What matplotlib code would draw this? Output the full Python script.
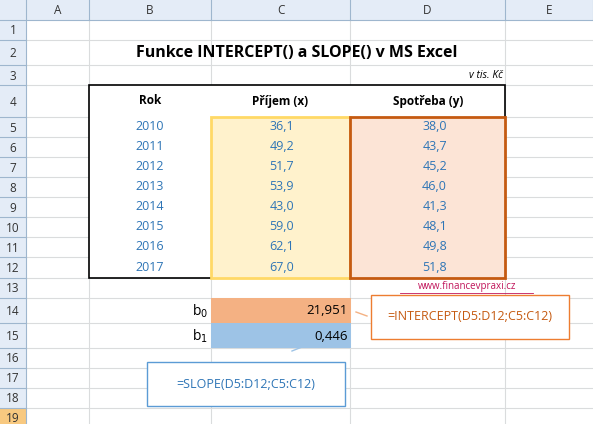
import matplotlib
matplotlib.use("Agg")
import matplotlib.pyplot as plt
from matplotlib.patches import Rectangle

years = ["2010","2011","2012","2013","2014","2015","2016","2017"]
income = ["36,1","49,2","51,7","53,9","43,0","59,0","62,1","67,0"]
spend = ["38,0","43,7","45,2","46,0","41,3","48,1","49,8","51,8"]
b0, b1 = "21,951", "0,446"
col_names = ["A","B","C","D","E"]

W, H = 593, 424
plt.rcParams['font.family'] = ['Open Sans', 'DejaVu Sans']
fig = plt.figure(figsize=(W/100, H/100), dpi=100)
ax = fig.add_axes([0,0,1,1])
ax.set_xlim(0, W); ax.set_ylim(H, 0); ax.axis("off")

cols = [26, 89, 211, 350, 505, 593]
rows = [20,40,65,85,117,137,157,177,197,217,237,257,278,298,323,348,368,388,408,428]
grid = "#dadcdd"
for x in cols[1:-1]:
    ax.plot([x,x],[20,H], color=grid, lw=0.8)
for y in rows[1:]:
    ax.plot([26,W],[y,y], color=grid, lw=0.8)
ax.add_patch(Rectangle((0,0),W,20,fc="#e4ecf7",ec="none"))
ax.add_patch(Rectangle((0,0),26,H,fc="#e4ecf7",ec="none"))
hl = "#9eb6ce"
for i,c in enumerate(col_names):
    ax.text((cols[i]+cols[i+1])/2, 10.5, c, ha="center", va="center", fontsize=8.5, color="#333333")
    ax.plot([cols[i+1]]*2,[0,20], color=hl, lw=0.8)
for i in range(19):
    y0, y1 = rows[i], rows[i+1]
    if i == 18:
        ax.add_patch(Rectangle((0,y0),26,H-y0,fc="#f8c980",ec="none"))
    ax.text(13, (y0+y1)/2+1, str(i+1), ha="center", va="center", fontsize=8.5, color="#333333")
    ax.plot([0,26],[y1,y1], color=hl, lw=0.8)
ax.plot([26,26],[0,H], color=hl, lw=0.8)
ax.plot([0,W],[20,20], color=hl, lw=0.8)

ax.add_patch(Rectangle((89,85),416,193,fc="white",ec="black",lw=1.2,zorder=2))
ax.add_patch(Rectangle((211,117),139,161,fc="#fff2cc",ec="#ffd966",lw=2,zorder=3))
ax.add_patch(Rectangle((350,117),155,161,fc="#fce4d6",ec="#c55a11",lw=2,zorder=3))

ax.text(297, 53, "Funkce INTERCEPT() a SLOPE() v MS Excel", ha="center", va="center",
        fontsize=11.5, fontweight="bold")
ax.text(503, 76, "v tis. Kč", ha="right", va="center", fontsize=7.5, style="italic")
for x, t in [(150,"Rok"),(280,"Příjem (x)"),(428,"Spotřeba (y)")]:
    ax.text(x, 101, t, ha="center", va="center", fontsize=8.5, fontweight="bold", zorder=4)
blue = "#2e75b6"
for i in range(8):
    yc = (rows[4+i]+rows[5+i])/2
    ax.text(150, yc, years[i], ha="center", va="center", fontsize=9, color=blue, zorder=4)
    ax.text(294, yc, income[i], ha="right", va="center", fontsize=9, color=blue, zorder=4)
    ax.text(447, yc, spend[i], ha="right", va="center", fontsize=9, color=blue, zorder=4)
ax.text(467, 287, "www.financevpraxi.cz", ha="center", va="center", fontsize=7,
        color="#c0145a")
ax.plot([400,533],[293,293], color="#c0145a", lw=0.6)

ax.add_patch(Rectangle((211,298),140,25,fc="#f4b183",ec="none",zorder=3))
ax.add_patch(Rectangle((211,323),140,25,fc="#9dc3e6",ec="none",zorder=3))
ax.text(348, 311, b0, ha="right", va="center", fontsize=9.5, zorder=4)
ax.text(348, 336, b1, ha="right", va="center", fontsize=9.5, zorder=4)
ax.text(208, 311, "b$_0$", ha="right", va="center", fontsize=10, zorder=4)
ax.text(208, 336, "b$_1$", ha="right", va="center", fontsize=10, zorder=4)

ax.add_patch(Rectangle((371,295),198,44,fc="white",ec="#ed7d31",lw=1,zorder=3))
ax.text(470, 317, "=INTERCEPT(D5:D12;C5:C12)", ha="center", va="center",
        fontsize=9, color="#c55a11", zorder=4)
ax.plot([356,367],[312,316], color="#f4b183", lw=1, zorder=4)
ax.add_patch(Rectangle((147,362),198,44,fc="white",ec="#5b9bd5",lw=1,zorder=3))
ax.text(246, 384, "=SLOPE(D5:D12;C5:C12)", ha="center", va="center",
        fontsize=9, color="#2e75b6", zorder=4)
ax.plot([292,312],[351,343], color="#9dc3e6", lw=1, zorder=4)

fig.savefig("out.png", dpi=100)
